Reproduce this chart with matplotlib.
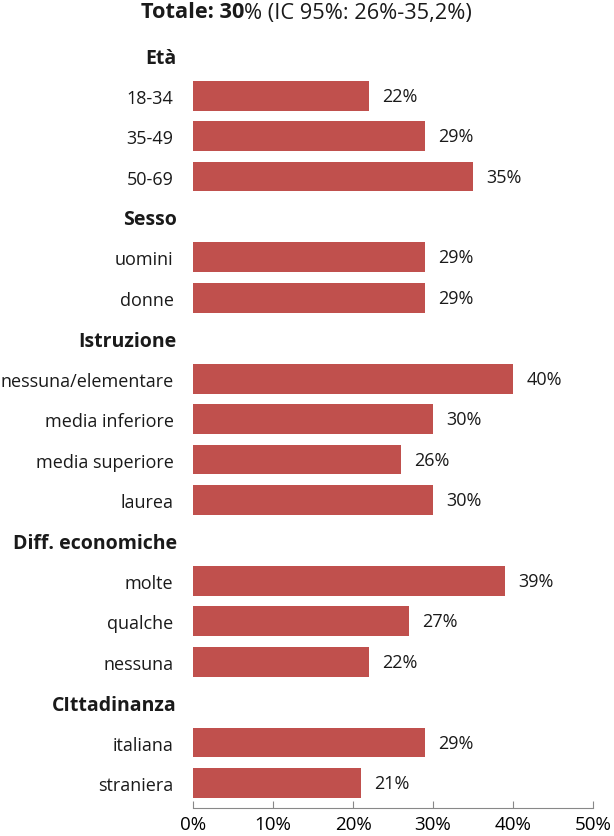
"""Horizontal bar chart: Totale 30% by subgroup."""

import matplotlib
matplotlib.use('Agg')
import matplotlib.pyplot as plt

plt.rcParams['font.family'] = ['Open Sans', 'DejaVu Sans']

# rows from top to bottom; None value marks a group header
labels = ['Età', '18-34', '35-49', '50-69',
          'Sesso', 'uomini', 'donne',
          'Istruzione', 'nessuna/elementare', 'media inferiore', 'media superiore', 'laurea',
          'Diff. economiche', 'molte', 'qualche', 'nessuna',
          'CIttadinanza', 'italiana', 'straniera']
values = [None, 22, 29, 35,
          None, 29, 29,
          None, 40, 30, 26, 30,
          None, 39, 27, 22,
          None, 29, 21]
xticks = [0, 10, 20, 30, 40, 50]

bar_color = '#C0504D'
fs = 13

fig = plt.figure(figsize=(6.14, 8.37), dpi=100)
ax = fig.add_axes([193 / 614, (837 - 809) / 837, 400 / 614, (809 - 36) / 837])

ypos = list(range(len(labels)))
for y, v in zip(ypos, values):
    if v is None:
        continue
    ax.barh(y, v, height=0.74, color=bar_color)
    ax.text(v + 1.7, y, f'{v}%', va='center', ha='left', fontsize=fs, color='#1a1a1a')

ax.set_xlim(0, 50)
ax.set_ylim(18.62, -0.5)
ax.set_xticks(xticks)
ax.set_xticklabels([f'{t}%' for t in xticks], fontsize=fs + 0.5)
ax.set_yticks(ypos)
ax.set_yticklabels(labels, fontsize=fs)
for lab, v in zip(ax.get_yticklabels(), values):
    if v is None:
        lab.set_fontweight('bold')
        lab.set_fontsize(fs + 1)
        lab.set_x(0.008)
    lab.set_color('#1a1a1a')

ax.tick_params(axis='y', length=0, pad=14)
ax.tick_params(axis='x', direction='in', length=5, color='#888888', pad=5)
for s in ['top', 'right', 'left']:
    ax.spines[s].set_visible(False)
ax.spines['bottom'].set_color('#888888')

# title with bold first part
t1 = fig.text(141 / 614, 1 - 13 / 837, 'Totale: 30', fontsize=15.7, fontweight='bold',
              ha='left', va='center', color='#1a1a1a')
ax.annotate('% (IC 95%: 26%-35,2%)', xy=(1, 0.5), xycoords=t1, fontsize=15.7,
            ha='left', va='center', color='#1a1a1a', annotation_clip=False)

fig.savefig('out.png', dpi=100)
